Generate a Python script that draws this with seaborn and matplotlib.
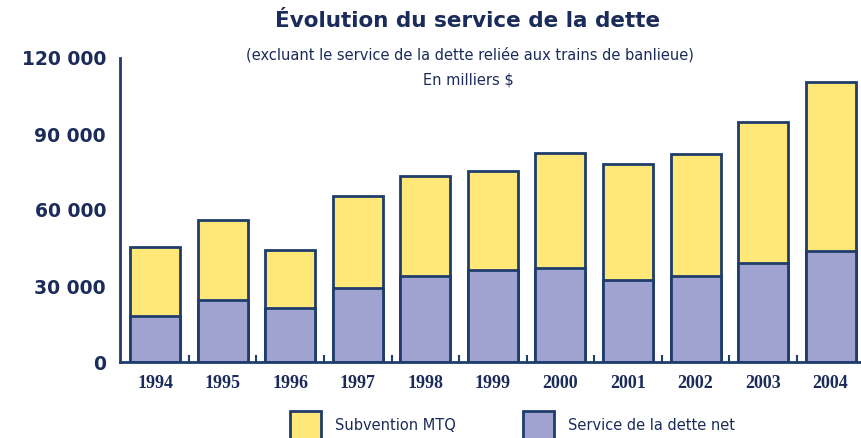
import matplotlib
matplotlib.use("Agg")
import matplotlib.pyplot as plt
import seaborn as sns
import numpy as np
import pandas as pd
from matplotlib.patches import Patch

years = ["1994", "1995", "1996", "1997", "1998", "1999", "2000", "2001", "2002", "2003", "2004"]
service_net = [18200, 24500, 21300, 29200, 34000, 36300, 37200, 32400, 34100, 39200, 43800]
subvention_mtq = [27200, 31500, 22900, 36300, 39400, 39100, 45200, 45800, 48000, 55700, 66900]
y_ticks = [0, 30000, 60000, 90000, 120000]
y_tick_labels = ["0", "30 000", "60 000", "90 000", "120 000"]

title = "Évolution du service de la dette"
subtitle = "(excluant le service de la dette reliée aux trains de banlieue)"
unit = "En milliers $"
legend_labels = ["Subvention MTQ", "Service de la dette net"]

YELLOW = "#FFE878"
PURPLE = "#A0A3CF"
NAVY = "#1E3D6C"
TEXT = "#1B2C5A"

sns.set_theme(style="white")
plt.rcParams["font.family"] = ["DejaVu Sans"]

df = pd.DataFrame({
    "year": years,
    "service": service_net,
    "total": np.array(service_net) + np.array(subvention_mtq),
})

fig = plt.figure(figsize=(8.61, 4.38), dpi=100)
ax = fig.add_axes([120 / 861, 1 - 362 / 438, 1 - 120 / 861, (362 - 58) / 438])

sns.barplot(data=df, x="year", y="total", color=YELLOW, edgecolor=NAVY,
            linewidth=2, width=0.74, saturation=1, ax=ax)
sns.barplot(data=df, x="year", y="service", color=PURPLE, edgecolor=NAVY,
            linewidth=2, width=0.74, saturation=1, ax=ax)

ax.set_ylim(0, 120000)
ax.set_xlim(-0.52, 10.45)
ax.set_xlabel("")
ax.set_ylabel("")

for s in ["top", "right"]:
    ax.spines[s].set_visible(False)
for s in ["left", "bottom"]:
    ax.spines[s].set_color(NAVY)
    ax.spines[s].set_linewidth(2)

ax.set_yticks(y_ticks)
ax.set_yticklabels(y_tick_labels, fontsize=13.5, fontweight="bold", color=TEXT)
ax.tick_params(axis="y", direction="in", length=8, width=1.5, color=NAVY, pad=10)

ax.set_xticks(range(len(years)))
ax.set_xticklabels(years, fontsize=13, color=TEXT, family="Liberation Serif", fontweight="bold")
ax.tick_params(axis="x", which="major", length=0, pad=9)
ax.set_xticks(np.arange(0.5, len(years) - 0.5, 1.0), minor=True)
ax.tick_params(axis="x", which="minor", direction="in", length=5, width=1.5, color=NAVY, bottom=True)

fig.text(468 / 861, 1 - 21 / 438, title, ha="center", va="center", fontsize=15.5,
         fontweight="bold", color=TEXT)
fig.text(470 / 861, 1 - 55 / 438, subtitle, ha="center", va="center", fontsize=10.5,
         color=TEXT)
fig.text(468 / 861, 1 - 80 / 438, unit, ha="center", va="center", fontsize=10.5,
         color=TEXT)

colors = [YELLOW, PURPLE]
xs = [290, 523]
for lab, c, x0 in zip(legend_labels, colors, xs):
    leg = fig.legend([Patch(facecolor=c, edgecolor=NAVY, linewidth=2)], [lab],
                     loc="upper left", bbox_to_anchor=(x0 / 861, 1 - 411 / 438),
                     frameon=False, borderaxespad=0, borderpad=0,
                     handlelength=2.1, handleheight=2.6, handletextpad=1.0,
                     prop={"family": "DejaVu Sans", "size": 10.5})
    for t in leg.get_texts():
        t.set_color(TEXT)

fig.savefig("out.png", dpi=100)
